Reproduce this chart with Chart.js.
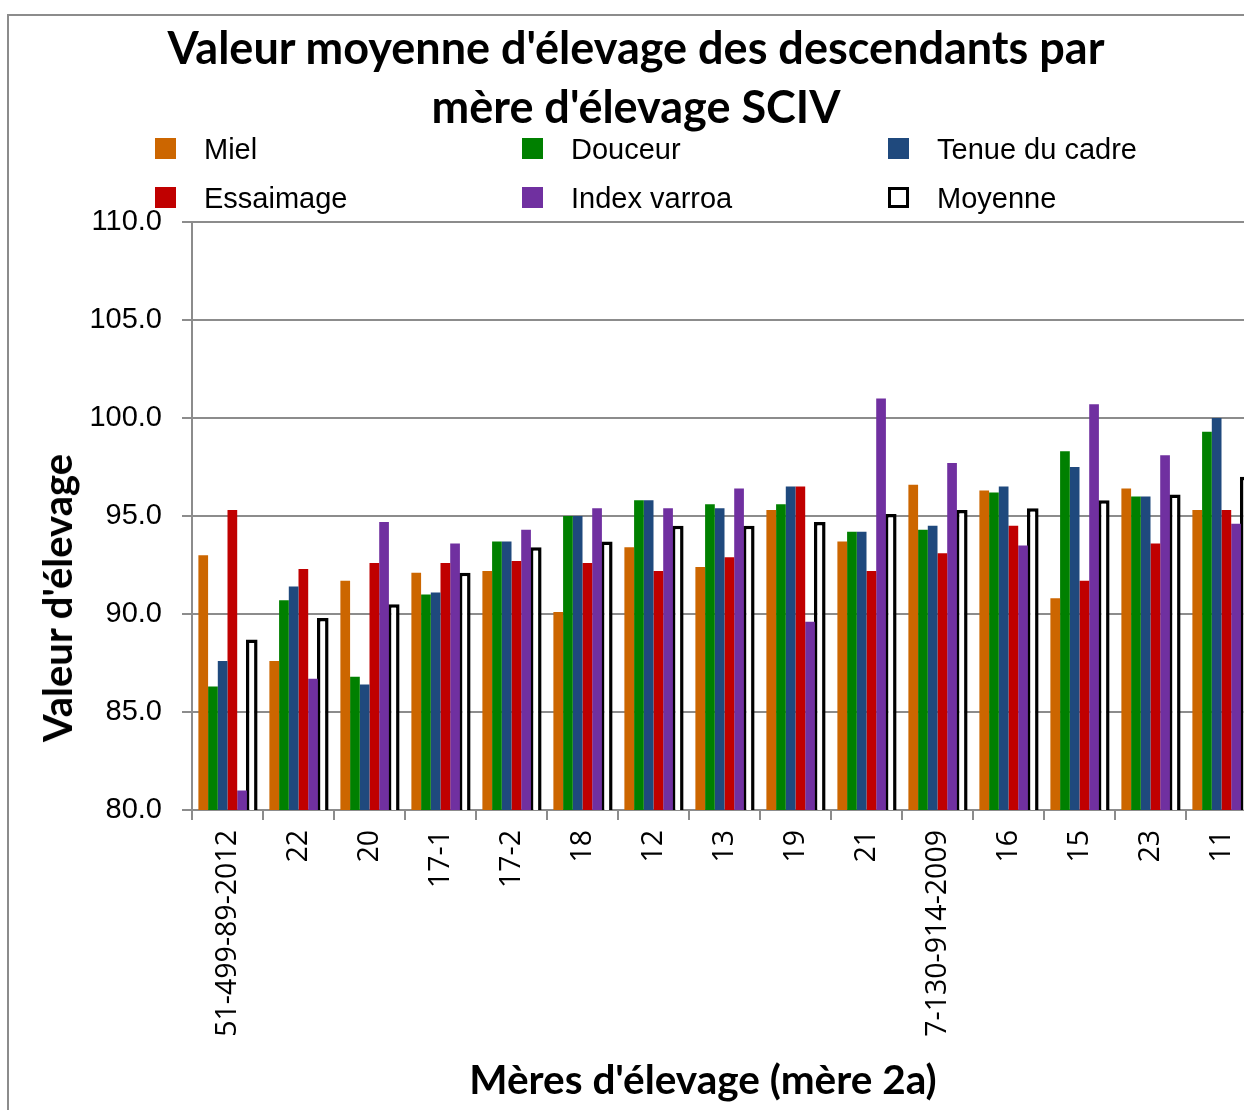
<!DOCTYPE html>
<html>
<head>
<meta charset="utf-8">
<script src="https://cdn.jsdelivr.net/npm/chart.js@4"></script>
<style>
  html, body { margin: 0; padding: 0; background: #fff; }
  body { width: 1244px; height: 1110px; overflow: hidden; position: relative; }
  #frame { position: absolute; left: 7px; top: 14px; width: 1300px; height: 1200px; border: 2px solid #8c8c8c; box-sizing: border-box; }
  #chart { position: absolute; left: 0; top: 0; }
  #title { position: absolute; left: 0; width: 1272px; top: 18px; text-align: center;
           font-family: Lato, "Open Sans", sans-serif; font-weight: bold; font-size: 45px; line-height: 59px; color: #000; }
  .axt { position: absolute; font-family: Lato, "Open Sans", sans-serif; font-weight: bold; color: #000; white-space: nowrap; }
  #ytitle { font-size: 40px; left: 57px; top: 598px; transform: translate(-50%, -50%) rotate(-90deg); }
  #xtitle { font-size: 40.5px; left: 703px; top: 1078px; transform: translate(-50%, -50%); }
  .leg { position: absolute; font-family: "Liberation Sans", Arial, sans-serif; font-size: 29px; color: #000; line-height: 30px; }
  .sw { position: absolute; width: 21px; height: 21px; }
</style>
</head>
<body>
<div id="frame"></div>
<canvas id="chart" width="1270" height="1110"></canvas>
<div id="title">Valeur moyenne d'élevage des descendants par<br>mère d'élevage SCIV</div>
<div id="ytitle" class="axt">Valeur d'élevage</div>
<div id="xtitle" class="axt">Mères d'élevage (mère 2a)</div>
<div id="legend"></div>
<script>
const categories = ['51-499-89-2012', '22', '20', '17-1', '17-2', '18', '12', '13', '19', '21', '7-130-914-2009', '16', '15', '23', '11'];

const miel      = [93.0, 87.6, 91.7, 92.1, 92.2, 90.1, 93.4, 92.4, 95.3, 93.7, 96.6, 96.3, 90.8, 96.4, 95.3];
const douceur   = [86.3, 90.7, 86.8, 91.0, 93.7, 95.0, 95.8, 95.6, 95.6, 94.2, 94.3, 96.2, 98.3, 96.0, 99.3];
const tenue     = [87.6, 91.4, 86.4, 91.1, 93.7, 95.0, 95.8, 95.4, 96.5, 94.2, 94.5, 96.5, 97.5, 96.0, 100.0];
const essaimage = [95.3, 92.3, 92.6, 92.6, 92.7, 92.6, 92.2, 92.9, 96.5, 92.2, 93.1, 94.5, 91.7, 93.6, 95.3];
const varroa    = [81.0, 86.7, 94.7, 93.6, 94.3, 95.4, 95.4, 96.4, 89.6, 101.0, 97.7, 93.5, 100.7, 98.1, 94.6];
const moyenne   = [88.7, 89.8, 90.5, 92.1, 93.4, 93.7, 94.5, 94.5, 94.7, 95.1, 95.3, 95.4, 95.8, 96.1, 97.0];

const yTicks = { min: 80, max: 110, step: 5 };

const series = [
    { label: 'Miel', data: miel, color: '#CC6600' },
    { label: 'Douceur', data: douceur, color: '#008000' },
    { label: 'Tenue du cadre', data: tenue, color: '#1F497D' },
    { label: 'Essaimage', data: essaimage, color: '#C00000' },
    { label: 'Index varroa', data: varroa, color: '#7030A0' },
    { label: 'Moyenne', data: moyenne, color: null }
];

// legende en HTML, 3 colonnes x 2 lignes
const legendCols = [155, 522, 888];
const legendRows = [138, 187];
const legendBox = document.getElementById('legend');
series.forEach((s, i) => {
    const col = legendCols[i % 3];
    const row = legendRows[Math.floor(i / 3)];
    const sw = document.createElement('div');
    sw.className = 'sw';
    sw.style.left = col + 'px';
    sw.style.top = row + 'px';
    if (s.color) {
        sw.style.background = s.color;
    } else {
        sw.style.background = '#fff';
        sw.style.border = '3px solid #000';
        sw.style.boxSizing = 'border-box';
    }
    legendBox.appendChild(sw);
    const txt = document.createElement('div');
    txt.className = 'leg';
    txt.textContent = s.label;
    txt.style.left = (col + 49) + 'px';
    txt.style.top = (row - 4) + 'px';
    legendBox.appendChild(txt);
});

const gridColor = '#8c8c8c';

const ctx = document.getElementById('chart').getContext('2d');
const chart = new Chart(ctx, {
    type: 'bar',
    data: {
        labels: categories,
        datasets: series.map(s => ({
            label: s.label,
            data: s.data,
            backgroundColor: s.color || '#ffffff',
            borderColor: s.color ? s.color : '#000000',
            borderWidth: s.color ? 0 : 3.5,
            // la moyenne a un contour qui deborde un peu
            barPercentage: s.color ? 1.0 : 1.2,
            categoryPercentage: 0.82
        }))
    },
    options: {
        responsive: false,
        animation: false,
        devicePixelRatio: 1,
        layout: { padding: { top: 222, right: 13, left: 0, bottom: 0 } },
        plugins: {
            legend: { display: false },
            title: { display: false },
            tooltip: { enabled: false }
        },
        scales: {
            x: {
                grid: { display: true, drawOnChartArea: false, tickLength: 10, color: gridColor, lineWidth: 2, offset: true },
                border: { color: gridColor, width: 2 },
                ticks: {
                    color: '#000',
                    font: { family: "'Open Sans', sans-serif", size: 28.5 },
                    minRotation: 90, maxRotation: 90,
                    padding: 10,
                    autoSkip: false
                },
                afterFit: axis => { axis.height = 300; }
            },
            y: {
                min: yTicks.min,
                max: yTicks.max,
                grid: { color: gridColor, lineWidth: 2, tickLength: 10 },
                border: { color: gridColor, width: 2 },
                ticks: {
                    stepSize: yTicks.step,
                    color: '#000',
                    padding: 20,
                    font: { family: "'Liberation Sans', Arial, sans-serif", size: 29 },
                    callback: v => v.toFixed(1)
                },
                afterFit: axis => { axis.width = 192; }
            }
        }
    }
});
</script>
</body>
</html>
